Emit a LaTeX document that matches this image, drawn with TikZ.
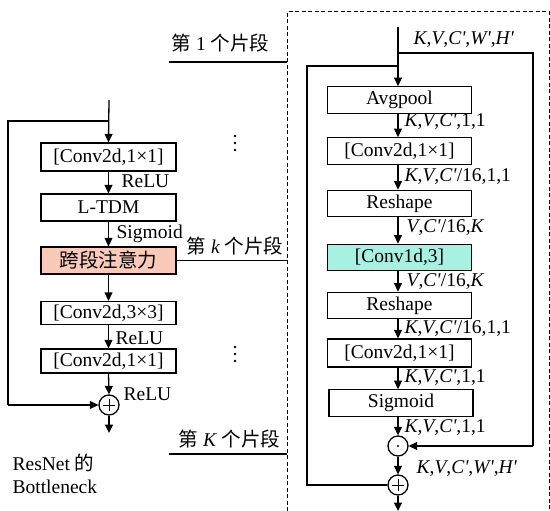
\documentclass[tikz,border=0pt]{standalone}
\usepackage{fontspec}
\setmainfont{Liberation Serif}
\newfontfamily\cjk{Noto Sans CJK SC}
\usetikzlibrary{arrows.meta}
\newcommand\pr{\textquotesingle}
\newcommand\ii[1]{\textit{#1}}
\definecolor{pinkfill}{RGB}{249,201,186}
\definecolor{tealfill}{RGB}{168,240,226}
\begin{document}
\begin{tikzpicture}[x=1pt,y=-1pt,
  font=\fontsize{19.5}{22}\selectfont,
  line width=1.3pt,
  arr/.style={-{Triangle[length=8.5pt,width=8pt]}},
  lbox/.style={draw,minimum width=135pt,inner sep=0pt},
  rbox/.style={draw,minimum width=144pt,minimum height=26.5pt,inner sep=0pt},
  opc/.style={draw,circle,minimum size=20pt,inner sep=0pt},
  lbl/.style={anchor=west,inner sep=0pt},
  dotmark/.style={fill,circle,inner sep=0pt,minimum size=2.6pt}]
\useasboundingbox (0,0) rectangle (550,511);
% dashed frame
\draw[line width=1pt,dash pattern=on 4pt off 2.5pt] (287,511) -- (287,12) -- (549,12) -- (549,511);
% ---------- left: bottleneck ----------
\coordinate (ltop) at (109,100);
\coordinate (lsplit) at (109,121);
\coordinate (lc1) at (8,121);
\coordinate (lc2) at (8,405);
\coordinate (lout) at (109,433);
\node[lbox,minimum height=28pt] (c1) at (108.5,157) {[Conv2d,1×1]};
\node[lbox,minimum height=27pt] (ltdm) at (108.5,207.5) {L-TDM};
\node[lbox,minimum height=27pt,fill=pinkfill] (kd) at (108.5,260.5) {\cjk 跨段注意力};
\node[lbox,minimum height=23pt] (c3) at (108.5,313) {[Conv2d,3×3]};
\node[lbox,minimum height=24pt] (c1b) at (108.5,361) {[Conv2d,1×1]};
\node[opc] (lplus) at (109,405) {};
\draw[line width=0.9pt] ([yshift=-6pt]lplus.center) -- ([yshift=6pt]lplus.center) ([xshift=-6pt]lplus.center) -- ([xshift=6pt]lplus.center);
\draw[arr] (ltop) -- (c1.north);
\draw (lsplit) -- (lc1) -- (lc2);
\draw[arr] (lc2) -- (lplus.west);
\draw[arr] (c1.south) -- (ltdm.north);
\draw[arr] (ltdm.south) -- (kd.north);
\draw[arr] (kd.south) -- (c3.north);
\draw[arr] (c3.south) -- (c1b.north);
\draw[arr] (c1b.south) -- (lplus.north);
\draw[arr] (lplus.south) -- (lout);
\node[lbl] (r1) at (121,181) {ReLU};
\node[lbl] (sg) at (116,234) {Sigmoid};
\node[lbl] (r2) at (115,338) {ReLU};
\node[lbl] (r3) at (123,394) {ReLU};
\node[lbl] (rn1) at (12,463) {ResNet {\cjk 的}};
\node[lbl] (rn2) at (12,487) {Bottleneck};
% segment labels
\coordinate (s1a) at (169,62);
\coordinate (s1b) at (287,62);
\draw (s1a) -- (s1b);
\node[lbl] (t1) at (171,43) {{\cjk 第} 1 {\cjk 个片段}};
\coordinate (skb) at (287,260.5);
\draw (kd.east) -- (skb);
\node[lbl] (tk) at (186,246) {{\cjk 第} \ii{k} {\cjk 个片段}};
\coordinate (sKa) at (169,454);
\coordinate (sKb) at (287,454);
\draw (sKa) -- (sKb);
\node[lbl] (tK) at (178,439) {{\cjk 第} \ii{K} {\cjk 个片段}};
\node[dotmark] (d1) at (235,136) {};
\node[dotmark] (d2) at (235,143) {};
\node[dotmark] (d3) at (235,150) {};
\node[dotmark] (d4) at (235,347) {};
\node[dotmark] (d5) at (235,354) {};
\node[dotmark] (d6) at (235,361) {};
% ---------- right: cross-segment attention ----------
\coordinate (rtop) at (398,27);
\coordinate (rb1) at (398,53);
\coordinate (rb2) at (533,53);
\coordinate (rb3) at (533,446);
\coordinate (rl1) at (398,66);
\coordinate (rl2) at (307,66);
\coordinate (rl3) at (307,485);
\coordinate (rout) at (398,511);
\node[rbox] (avg) at (399.5,100) {Avgpool};
\node[rbox] (cc) at (399.5,151) {[Conv2d,1×1]};
\node[rbox] (rs1) at (399.5,203.5) {Reshape};
\node[rbox,fill=tealfill] (c1d) at (399.5,257.5) {[Conv1d,3]};
\node[rbox] (rs2) at (399.5,305.5) {Reshape};
\node[rbox,minimum height=28pt] (cc2) at (399.5,353) {[Conv2d,1×1]};
\node[rbox] (sig) at (401,403) {Sigmoid};
\node[opc] (odot) at (398,446) {};
\node[dotmark,minimum size=2.4pt] (odotc) at (398,446) {};
\node[opc] (rplus) at (398,485) {};
\draw[line width=0.9pt] ([yshift=-6pt]rplus.center) -- ([yshift=6pt]rplus.center) ([xshift=-6pt]rplus.center) -- ([xshift=6pt]rplus.center);
\draw[arr] (rtop) -- (rtop |- avg.north);
\draw (rb1) -- (rb2) -- (rb3);
\draw[arr] (rb3) -- (odot.east);
\draw (rl1) -- (rl2) -- (rl3) -- (rplus.west);
\draw[arr] (avg.south -| rtop) -- (cc.north -| rtop);
\draw[arr] (cc.south -| rtop) -- (rs1.north -| rtop);
\draw[arr] (rs1.south -| rtop) -- (c1d.north -| rtop);
\draw[arr] (c1d.south -| rtop) -- (rs2.north -| rtop);
\draw[arr] (rs2.south -| rtop) -- (cc2.north -| rtop);
\draw[arr] (cc2.south -| rtop) -- (sig.north -| rtop);
\draw[arr] (sig.south -| rtop) -- (odot.north);
\draw[arr] (odot.south) -- (rplus.north);
\draw[arr] (rplus.south) -- (rout);
\node[lbl] (k0) at (413,40) {\ii{K},\ii{V},\ii{C\pr},\ii{W\pr},\ii{H\pr}};
\node[lbl] (k1) at (404,122) {\ii{K},\ii{V},\ii{C\pr},1,1};
\node[lbl] (k2) at (404,177) {\ii{K},\ii{V},\ii{C\pr}/16,1,1};
\node[lbl] (k3) at (406,228) {\ii{V},\ii{C\pr}/16,\ii{K}};
\node[lbl] (k4) at (406,282) {\ii{V},\ii{C\pr}/16,\ii{K}};
\node[lbl] (k5) at (404,329) {\ii{K},\ii{V},\ii{C\pr}/16,1,1};
\node[lbl] (k6) at (404,378) {\ii{K},\ii{V},\ii{C\pr},1,1};
\node[lbl] (k7) at (404,428) {\ii{K},\ii{V},\ii{C\pr},1,1};
\node[lbl] (k8) at (416,469) {\ii{K},\ii{V},\ii{C\pr},\ii{W\pr},\ii{H\pr}};
\end{tikzpicture}
\end{document}
